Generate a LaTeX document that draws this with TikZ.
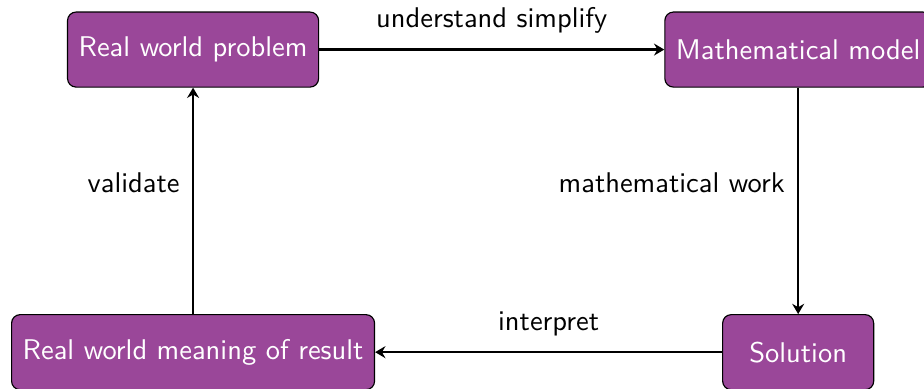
\documentclass[tikz,border=0pt]{standalone}
\usepackage{xcolor}
\usetikzlibrary{arrows.meta, positioning}
\definecolor{plum}{HTML}{9A4799}
\tikzset{
  stagebox/.style={
    rectangle, rounded corners=3pt,
    draw=black, fill=plum, text=white,
    minimum height=0.925cm, inner xsep=3.9pt,
    font=\sffamily
  },
  note/.style={font=\sffamily, text=black},
  arrow/.style={-{Stealth[length=3.6pt, width=4.2pt, inset=1.2pt]}, thick, draw=black},
}

\begin{document}
\begin{tikzpicture}
  \useasboundingbox (0,0) rectangle (11.39,4.785);

  \node[stagebox] (problem) at (2.380, 4.174) {Real world problem};
  \node[stagebox] (model) at (9.839, 4.174) {Mathematical model};
  \node[stagebox, minimum width=1.862cm] (solution) at (9.839, 0.444) {Solution};
  \node[stagebox] (meaning) at (2.380, 0.444) {Real world meaning of result};

  \draw[arrow] (problem) -- node[note, above=2pt] (simplify) {understand simplify} (model);
  \draw[arrow] (model) -- node[note, left=1pt, pos=0.42] (work) {mathematical work} (solution);
  \draw[arrow] (solution) -- node[note, above=2pt] (interpret) {interpret} (meaning);
  \draw[arrow] (meaning) -- node[note, left=1pt, pos=0.58] (validate) {validate} (problem);
\end{tikzpicture}
\end{document}
